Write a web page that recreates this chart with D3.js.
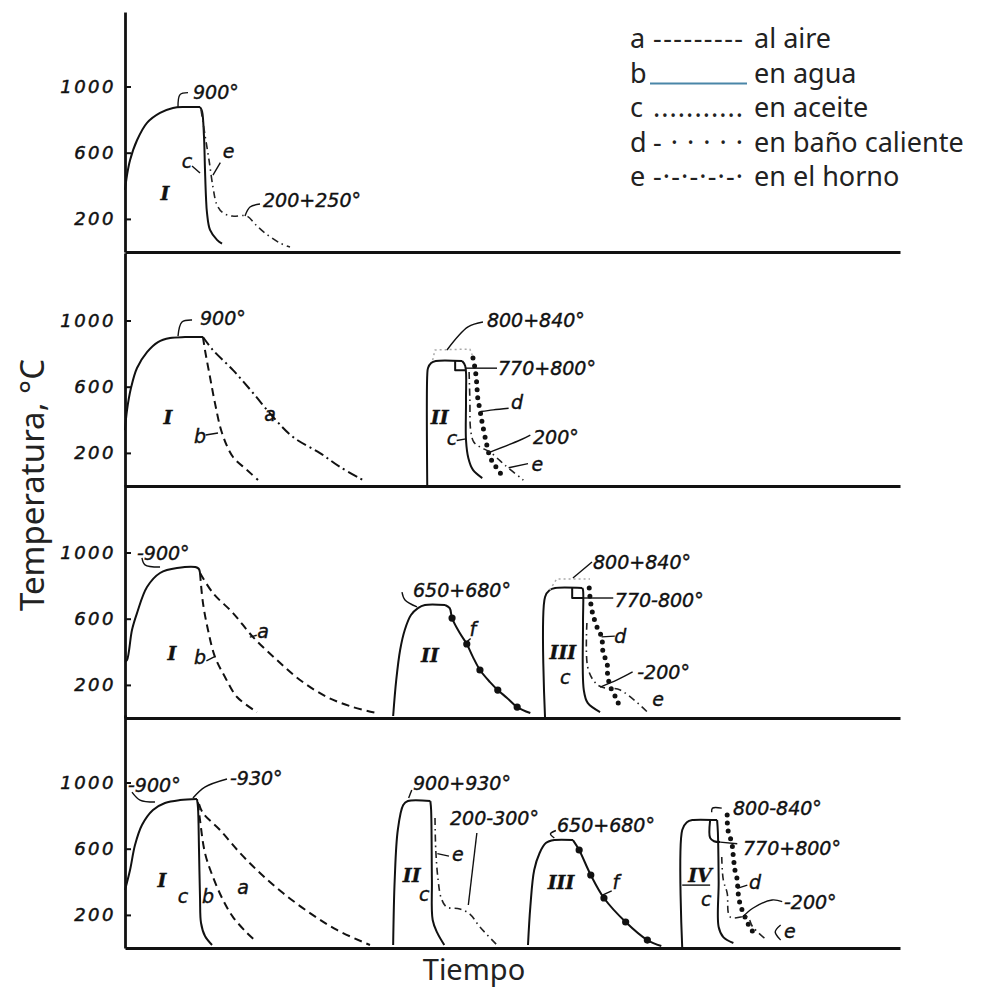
<!DOCTYPE html>
<html>
<head>
<meta charset="utf-8">
<script src="https://cdn.jsdelivr.net/npm/d3@7"></script>
<style>
  body { margin: 0; background: #fff; }
  svg { display: block; }
</style>
</head>
<body>
<div id="main"></div>
<script>
// ---- data (time in arbitrary units 0-100, temperature in °C) ----
const panelBase = [252, 486, 718, 948];
const panelTop = [1450, 1408, 1408, 1408];
const yTicks = [200, 600, 1000];

// panel 1
const p1Heat = [[0,375],[0.26,465],[0.65,555],[1.55,675],[2.84,780],[4.52,840],[6.19,870],[7.74,876],[9.68,876]];
const p1Oil = [[9.68,876],[9.94,850],[10.19,700],[10.32,500],[10.45,330],[10.58,236],[10.97,133],[11.87,73],[12.52,50]];
const p1Furn = [[9.81,860],[10.32,707],[10.84,556],[11.35,393],[11.87,284],[12.65,236],[13.81,217],[15.74,217],[16.77,169],[18.06,115],[20.0,54],[21.29,30]];

// panel 2
const p2Heat = [[0,338],[0.26,459],[0.77,592],[1.55,713],[2.84,809],[4.26,870],[5.81,894],[7.74,900],[10.06,900]];
const p2Water = [[10.06,900],[10.32,821],[10.97,658],[11.61,501],[12.52,320],[13.94,175],[15.74,97],[17.16,36]];
const p2Air = [[10.06,900],[11.35,821],[13.94,700],[16.52,562],[19.10,417],[21.68,296],[25.16,199],[27.74,115],[30.71,36]];
const p2IIHeat = [[39.0,0],[39.0,670],[39.1,713],[39.5,743],[40.1,755],[43.5,755]];
const p2IIOil = [[43.5,755],[43.9,725],[44.0,519],[44.0,278],[44.3,169],[44.9,97],[46.1,48]];
const p2IIStep = [[42.6,755],[42.6,700],[44.0,700]];
const p2IIBath = [[44.9,773],[45.2,700],[45.4,610],[45.5,538],[45.8,459],[46.1,380],[46.6,266],[47.1,175],[47.7,127],[48.4,79],[49.0,48]];
const p2IIFurn = [[44.4,689],[44.5,519],[44.6,338],[45.0,266],[45.8,236],[47.1,205],[49.0,127],[51.4,36]];
const p2IIBand = [[39.7,761],[40.0,822],[44.5,827],[44.8,791]];

// panel 3
const p3Heat = [[0,340],[0.26,350],[0.9,532],[1.55,634],[2.84,791],[4.52,876],[6.71,906],[9.42,906],[9.68,876]];
const p3Water = [[9.68,876],[10.06,695],[10.71,532],[11.61,369],[12.9,248],[14.45,127],[17.03,36]];
const p3Air = [[9.68,876],[11.35,755],[13.94,634],[16.52,489],[19.61,350],[22.58,230],[26.06,127],[29.42,66],[32.52,30]];
const p3IIHeat = [[34.6,12],[35.0,230],[35.5,411],[36.1,532],[36.9,622],[37.8,664],[38.7,683],[41.3,683]];
const p3IIFree = [[41.3,683],[41.9,664],[42.2,604],[43.2,513],[44.1,447],[44.9,368],[45.8,290],[47.1,217],[48.1,169],[49.3,121],[50.6,66],[52.3,30]];
const p3IIDots = [[42.2,604],[44.1,447],[45.8,290],[48.1,169],[50.6,66]];
const p3IIIHeat = [[54.2,0],[54.2,731],[54.8,773],[55.5,785],[59.0,785]];
const p3IIIStep = [[57.7,785],[57.7,725],[59.1,725]];
const p3IIIOil = [[59.0,785],[59.1,773],[59.1,574],[59.2,169],[59.7,91],[61.3,36]];
const p3IIIBath = [[59.9,785],[60.0,731],[60.3,640],[60.9,550],[61.5,489],[61.7,393],[62.2,332],[62.3,248],[62.8,169],[63.5,109],[63.9,48]];
const p3IIIFurn = [[59.6,574],[59.7,308],[60.6,217],[61.5,187],[63.9,169],[67.4,36]];
const p3IIIBand = [[54.8,773],[55.7,840],[60.0,840]];

// panel 4
const p4Heat = [[0,350],[0.65,471],[1.29,622],[2.19,743],[3.61,834],[5.16,876],[7.1,894],[9.29,900]];
const p4Oil = [[9.29,900],[9.42,846],[9.55,592],[9.68,302],[9.81,151],[10.32,72],[11.23,18]];
const p4Water = [[9.42,880],[9.68,773],[10.32,574],[11.35,429],[12.65,290],[13.94,187],[15.74,91],[17.03,36]];
const p4Air = [[9.55,870],[10.06,815],[12.26,713],[14.84,574],[17.42,453],[20.39,332],[23.87,211],[27.35,109],[31.61,18]];
const p4IIHeat = [[34.6,18],[34.8,411],[35.2,713],[35.9,864],[36.5,888],[39.4,888]];
const p4IIOil = [[39.4,888],[39.5,834],[39.6,411],[39.7,169],[40.3,91],[41.2,18]];
const p4IIFurn = [[40.0,785],[40.1,592],[40.4,411],[40.8,302],[41.5,248],[43.2,236],[44.5,205],[45.8,127],[48.0,18]];
const p4IIIHeat = [[52.0,18],[52.3,248],[52.8,471],[53.5,574],[54.3,634],[55.4,652],[57.8,652]];
const p4IIIFree = [[57.8,652],[58.6,592],[60.1,441],[61.8,302],[64.6,157],[67.4,48],[69.2,12]];
const p4IIIDots = [[58.6,592],[60.1,441],[61.8,302],[64.6,157],[67.4,48]];
const p4IVHeat = [[71.9,0],[71.9,713],[72.5,760],[73.2,773],[76.4,773]];
const p4IVStep = [[75.5,773],[75.5,665],[76.0,645],[76.8,640]];
const p4IVOil = [[76.4,773],[76.5,700],[76.6,400],[76.6,127],[77.2,66],[78.5,30]];
const p4IVBath = [[77.7,803],[77.8,713],[78.3,634],[78.5,550],[78.7,471],[79.0,411],[79.1,338],[79.4,260],[80.0,187],[80.6,127],[81.3,79]];
const p4IVFurn = [[77.0,550],[77.2,411],[77.7,332],[78.1,187],[80.3,187],[81.0,127],[82.8,48]];

// curves: [panel, style, points, smooth]
const curves = [
  [0,"solid",p1Heat,true],[0,"solid",p1Oil,true],[0,"furnace",p1Furn,true],
  [1,"solid",p2Heat,true],[1,"dashed",p2Water,true],[1,"dashdot",p2Air,true],
  [1,"solid",p2IIHeat,true],[1,"solid",p2IIOil,true],[1,"solid",p2IIStep,false],
  [1,"bath",p2IIBath,true],[1,"furnace",p2IIFurn,true],[1,"band",p2IIBand,false],
  [2,"solid",p3Heat,true],[2,"dashed",p3Water,true],[2,"dashed",p3Air,true],
  [2,"solid",p3IIHeat,true],[2,"solid",p3IIFree,true],
  [2,"solid",p3IIIHeat,true],[2,"solid",p3IIIStep,false],[2,"solid",p3IIIOil,true],
  [2,"bath",p3IIIBath,true],[2,"furnace",p3IIIFurn,true],[2,"band",p3IIIBand,false],
  [3,"solid",p4Heat,true],[3,"solid",p4Oil,true],[3,"dashed",p4Water,true],[3,"dashed",p4Air,true],
  [3,"solid",p4IIHeat,true],[3,"solid",p4IIOil,true],[3,"furnace",p4IIFurn,true],
  [3,"solid",p4IIIHeat,true],[3,"solid",p4IIIFree,true],
  [3,"solid",p4IVHeat,true],[3,"solid",p4IVStep,true],[3,"solid",p4IVOil,true],
  [3,"bath",p4IVBath,true],[3,"furnace",p4IVFurn,true]
];
const dotSets = [[2,p3IIDots],[3,p4IIIDots]];

// leader strokes: [panel, points]
const leaders = [
  [0,[[6.84,870],[7.1,951],[8.13,963]]],[0,[[15.48,217],[16.13,272],[17.42,290]]],
  [0,[[8.65,520],[9.68,477]]],[0,[[11.35,465],[12.3,540]]],
  [1,[[6.84,906],[7.35,991],[8.65,1003]]],[1,[[10.4,308],[12.0,320]]],
  [1,[[41.55,822],[44.26,961],[46.19,991]]],[1,[[44.0,712],[48.0,712]]],
  [1,[[45.9,450],[47.5,460],[49.5,470]]],[1,[[47.1,205],[51.0,278],[52.3,308]]],
  [1,[[49.5,110],[52.0,135]]],[1,[[42.8,275],[44.0,285]]],
  [2,[[2.19,967],[2.58,925],[4.52,912]]],[2,[[10.5,345],[11.5,369]]],[2,[[16.1,489],[17.0,500]]],
  [2,[[35.74,761],[36.13,713],[37.68,671]]],[2,[[44.1,460],[44.6,480]]],
  [2,[[57.8,846],[60.26,943]]],[2,[[59.1,725],[63.0,725]]],[2,[[61.5,490],[63.2,495]]],
  [2,[[61.3,187],[63.5,230],[65.5,278]]],
  [3,[[0.9,942],[1.94,894],[3.87,882]]],[3,[[8.77,906],[10.3,972],[13.16,1021]]],
  [3,[[36.6,906],[37.0,955]]],[3,[[45.4,695],[44.3,260]]],[3,[[40.3,570],[41.8,555]]],
  [3,[[55.6,710],[54.9,690],[55.4,665]]],[3,[[61.6,320],[62.8,345]]],
  [3,[[75.7,820],[75.8,845],[77.0,845]]],[3,[[76.8,640],[79.0,630]]],[3,[[79.0,360],[80.3,380]]],
  [3,[[79.7,187],[81.0,240],[83.5,290],[84.8,280]]],[3,[[84.6,139],[83.9,97],[84.6,48]]],
  [3,[[71.9,380],[75.5,380]]]
];

// annotation texts: [panel, t, T, text, anchor, kind]
const notes = [
  [0,8.77,924,"900°","start","n"],[0,17.81,272,"200+250°","start","n"],
  [0,8.0,507,"c","middle","n"],[0,12.6,568,"e","start","n"],[0,5.16,314,"I","middle","r"],
  [1,9.68,973,"900°","start","n"],[1,5.55,375,"I","middle","r"],[1,9.68,260,"b","middle","n"],
  [1,18.71,393,"a","middle","n"],[1,46.7,961,"800+840°","start","n"],[1,48.13,670,"770+800°","start","n"],
  [1,50.6,465,"d","middle","n"],[1,52.65,254,"200°","start","n"],[1,53.2,91,"e","middle","n"],
  [1,40.6,375,"II","middle","r"],[1,42.2,250,"c","middle","n"],
  [2,1.55,955,"-900°","start","n"],[2,6.06,350,"I","middle","r"],[2,9.68,326,"b","middle","n"],
  [2,17.81,483,"a","middle","n"],[2,37.16,731,"650+680°","start","n"],[2,39.35,338,"II","middle","r"],
  [2,44.9,495,"f","middle","n"],[2,60.39,900,"800+840°","start","n"],[2,63.2,671,"770-800°","start","n"],
  [2,63.9,453,"d","middle","n"],[2,66.1,236,"-200°","start","n"],[2,68.8,72,"e","middle","n"],
  [2,56.5,356,"III","middle","r"],[2,56.8,206,"c","middle","n"],
  [3,0.39,942,"-900°","start","n"],[3,13.55,985,"-930°","start","n"],[3,4.77,368,"I","middle","r"],
  [3,7.48,272,"c","middle","n"],[3,10.71,272,"b","middle","n"],[3,15.23,326,"a","middle","n"],
  [3,37.16,955,"900+930°","start","n"],[3,41.94,743,"200-300°","start","n"],[3,42.2,526,"e","start","n"],
  [3,37.0,400,"II","middle","r"],[3,38.6,284,"c","middle","n"],
  [3,55.74,701,"650+680°","start","n"],[3,56.26,356,"III","middle","r"],[3,63.35,356,"f","middle","n"],
  [3,78.45,804,"800-840°","start","n"],[3,79.74,562,"770+800°","start","n"],[3,81.3,356,"d","middle","n"],
  [3,85.03,236,"-200°","start","n"],[3,85.8,60,"e","middle","n"],[3,74.2,400,"IV","middle","r"],
  [3,75.0,254,"c","middle","n"]
];

// legend
const legendKeys = ["a","b","c","d","e"];
const legendSamples = ["---------", "", "...........", "- · · · · ·", "-·-·-·-·-·"];
const legendLabels = ["al aire","en agua","en aceite","en baño caliente","en el horno"];

// ---- drawing ----
const width = 982, height = 988;
const pxPerDeg = 0.1655;

const svg = d3.select("#main").append("svg")
  .attr("width", width).attr("height", height)
  .style("background", "#fff");

const x = d3.scaleLinear().domain([0, 100]).range([125, 900]);
const yScales = panelBase.map((b, i) =>
  d3.scaleLinear().domain([0, panelTop[i]]).range([b, b - panelTop[i] * pxPerDeg]));

const styles = {
  solid:   {dash: null, w: 2, color: "#111"},
  dashed:  {dash: "8,5", w: 2, color: "#111"},
  dashdot: {dash: "10,4,2,4", w: 2, color: "#111"},
  furnace: {dash: "7,4,1.5,4", w: 1.6, color: "#222"},
  bath:    {dash: "0,8", w: 5, color: "#111", cap: "round"},
  band:    {dash: "2,3", w: 1.5, color: "#aaa"}
};

// axes
panelBase.forEach((b, i) => {
  svg.append("g")
    .attr("transform", "translate(0," + b + ")")
    .call(d3.axisBottom(x).tickValues([]).tickSizeOuter(0))
    .call(g => g.select(".domain").attr("stroke", "#111").attr("stroke-width", 2.8));

  const ya = svg.append("g")
    .attr("transform", "translate(125,0)")
    .call(d3.axisLeft(yScales[i]).tickValues(yTicks).tickFormat(d3.format("d"))
      .tickSizeInner(-6).tickSizeOuter(0).tickPadding(9));
  ya.select(".domain").attr("stroke", "#111").attr("stroke-width", 2.8);
  ya.selectAll(".tick line").attr("stroke", "#111").attr("stroke-width", 2);
  ya.selectAll(".tick text")
    .attr("fill", "#111")
    .style("font-family", "'DejaVu Sans'")
    .style("font-style", "italic")
    .style("font-size", "18px")
    .style("letter-spacing", "2.5px")
    .attr("stroke", "#111").attr("stroke-width", 0.5);
});

// curves
curves.forEach(([p, s, pts, smooth]) => {
  const st = styles[s];
  const line = d3.line()
    .x(d => x(d[0]))
    .y(d => yScales[p](d[1]))
    .curve(smooth ? d3.curveCatmullRom.alpha(0.5) : d3.curveLinear);
  svg.append("path")
    .attr("d", line(pts))
    .attr("fill", "none")
    .attr("stroke", st.color)
    .attr("stroke-width", st.w)
    .attr("stroke-dasharray", st.dash)
    .attr("stroke-linecap", st.cap || "butt")
    .attr("stroke-linejoin", "round");
});

dotSets.forEach(([p, pts]) => {
  svg.append("g").selectAll("circle")
    .data(pts).enter().append("circle")
    .attr("cx", d => x(d[0]))
    .attr("cy", d => yScales[p](d[1]))
    .attr("r", 3.6)
    .attr("fill", "#111");
});

// leaders
leaders.forEach(([p, pts]) => {
  const line = d3.line()
    .x(d => x(d[0]))
    .y(d => yScales[p](d[1]))
    .curve(d3.curveCatmullRom.alpha(0.5));
  svg.append("path")
    .attr("d", line(pts))
    .attr("fill", "none")
    .attr("stroke", "#111")
    .attr("stroke-width", 1.4);
});

// annotations
notes.forEach(([p, t, T, txt, anchor, kind]) => {
  svg.append("text")
    .attr("x", x(t))
    .attr("y", yScales[p](T))
    .attr("text-anchor", anchor)
    .attr("fill", "#111")
    .attr("stroke", "#111")
    .attr("stroke-width", 0.4)
    .style("font-family", kind === "r" ? "'DejaVu Serif'" : "'DejaVu Sans'")
    .style("font-style", "italic")
    .style("font-weight", kind === "r" ? "bold" : "normal")
    .style("font-size", "19px")
    .text(txt);
});

// axis titles
svg.append("text")
  .attr("transform", "translate(44,485) rotate(-90)")
  .attr("text-anchor", "middle")
  .style("font-family", "'Noto Sans'")
  .style("font-size", "33px")
  .attr("fill", "#222")
  .text("Temperatura, °C");

svg.append("text")
  .attr("x", 474).attr("y", 980)
  .attr("text-anchor", "middle")
  .style("font-family", "'Noto Sans'")
  .style("font-size", "29px")
  .attr("fill", "#222")
  .text("Tiempo");

// legend
const ly = d3.scalePoint().domain(legendKeys).range([48, 186]);
const legend = svg.append("g").attr("id", "legend")
  .style("font-family", "'Noto Sans'")
  .style("font-size", "27px")
  .attr("fill", "#222");

legendKeys.forEach((k, i) => {
  legend.append("text").attr("x", 630).attr("y", ly(k)).text(k);
  if (legendSamples[i]) {
    legend.append("text").attr("x", 653).attr("y", ly(k))
      .attr("textLength", 90).attr("lengthAdjust", "spacing")
      .text(legendSamples[i]);
  } else {
    legend.append("line")
      .attr("x1", 650).attr("x2", 747)
      .attr("y1", ly(k) + 1).attr("y2", ly(k) + 1)
      .attr("stroke", "#4a86a8").attr("stroke-width", 2);
  }
  legend.append("text").attr("x", 754).attr("y", ly(k)).text(legendLabels[i]);
});
</script>
</body>
</html>
